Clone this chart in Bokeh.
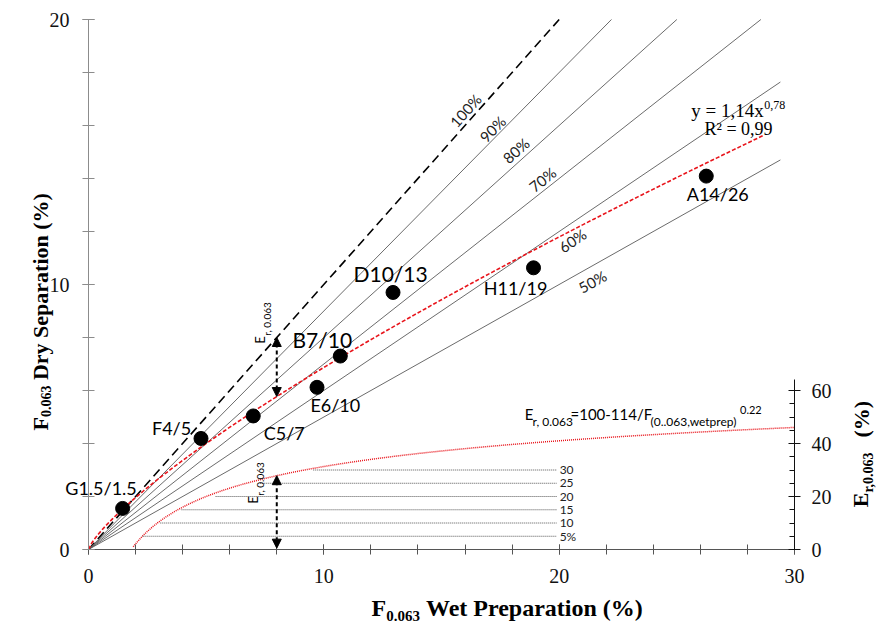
import math
import numpy as np
from bokeh.plotting import figure
from bokeh.models import Range1d, LinearAxis, FixedTicker, Label, Arrow, NormalHead, ColumnDataSource
from bokeh.core.properties import value
from bokeh.embed import file_html
from bokeh.resources import INLINE

# ---------------- data ----------------
sample_names = ["G1.5/1.5", "F4/5", "C5/7", "E6/10", "B7/10", "D10/13", "H11/19", "A14/26"]
wet_prep = [1.45, 4.78, 7.0, 9.71, 10.70, 12.94, 18.91, 26.25]
dry_sep = [1.55, 4.19, 5.04, 6.12, 7.30, 9.70, 10.63, 14.09]

ratio_slopes = [1.0, 0.9, 0.8, 0.7, 0.6, 0.5]
ratio_labels = ["100%", "90%", "80%", "70%", "60%", "50%"]
ratio_x_end = 29.4

fit_a, fit_b = 1.14, 0.78          # y = 1,14 x^0,78
fit_x_end = 28.7
er_a, er_b, er_c = 100.0, 114.0, 0.22   # Er = 100 - 114 / F^0.22
er_x_start, er_x_end = 1.9, 30.0

er_levels = [5, 10, 15, 20, 25, 30]
er_level_labels = ["5%", "10", "15", "20", "25", "30"]
er_level_x_start = [2.3, 3.05, 3.95, 5.4, 7.3, 9.55]
er_level_x_end = 19.9

arrow_x = 8.0

x_ticks = [0, 10, 20, 30]
y_ticks = [0, 10, 20]
er_ticks = [0, 20, 40, 60]
X_MAX, Y_MAX, ER_FULL = 30.0, 20.0, 200.0

# ---------------- layout ----------------
W, H = 885, 626
PX0, PY0 = 88.0, 549.0          # canvas pixel of data origin
PX1, PY1 = 794.0, 19.0          # canvas pixel of (30, 20)
SX = (PX1 - PX0) / X_MAX
SY = (PY0 - PY1) / Y_MAX

x_rng = Range1d(-PX0 / SX, (W - PX0) / SX)
y_rng = Range1d(-(H - PY0) / SY, PY0 / SY)
er_scale = ER_FULL / Y_MAX

p = figure(width=W, height=H, x_range=x_rng, y_range=y_rng,
           output_backend="svg", toolbar_location=None,
           min_border=0, min_border_left=0, min_border_right=0,
           min_border_top=0, min_border_bottom=0,
           x_axis_location=None, y_axis_location=None)
p.outline_line_color = None
p.grid.visible = False
p.background_fill_color = "white"
p.border_fill_color = "white"
p.extra_y_ranges = {"er": Range1d(y_rng.start * er_scale, y_rng.end * er_scale)}

def style_axis(ax, color, mi, mo, ni, no, standoff):
    ax.axis_line_color = color
    ax.major_tick_line_color = color
    ax.minor_tick_line_color = color
    ax.major_tick_in = mi
    ax.major_tick_out = mo
    ax.minor_tick_in = ni
    ax.minor_tick_out = no
    ax.major_label_text_font = "Liberation Serif"
    ax.major_label_text_font_size = "20px"
    ax.major_label_text_color = "#111111"
    ax.major_label_standoff = standoff

xa = LinearAxis(fixed_location=0, bounds=(0, X_MAX),
                ticker=FixedTicker(ticks=x_ticks, minor_ticks=list(range(0, 31, 2))))
style_axis(xa, "#555555", 5, 5, 5, 5, 14)
p.add_layout(xa, "below")

ya = LinearAxis(fixed_location=0, bounds=(0, Y_MAX),
                ticker=FixedTicker(ticks=y_ticks, minor_ticks=list(range(0, 21, 2))))
style_axis(ya, "#8c8c8c", 6, 6, 6, 6, 13)
p.add_layout(ya, "left")

ra = LinearAxis(y_range_name="er", fixed_location=X_MAX, bounds=(0, 64),
                ticker=FixedTicker(ticks=er_ticks, minor_ticks=list(range(0, 61, 5))))
style_axis(ra, "#111111", 6, 6, 5, 0, 11)
p.add_layout(ra, "right")

# ---------------- ratio lines ----------------
for k in ratio_slopes:
    xe_k = min(ratio_x_end, Y_MAX / k)
    if k == 1.0:
        p.line([0, xe_k], [0, k * xe_k], line_color="black", line_width=1.6, line_dash="9 5")
    else:
        p.line([0, xe_k], [0, k * xe_k], line_color="#5a5a5a", line_width=0.9)

# fit line
xf = np.linspace(0, fit_x_end, 200)
p.line(xf, fit_a * xf ** fit_b, line_color="#e8141b", line_width=1.6, line_dash="4 2")

# Er curve on secondary axis
xe = np.linspace(er_x_start, er_x_end, 300)
p.line(xe, er_a - er_b / xe ** er_c, y_range_name="er", line_color="#e8141b",
       line_width=1.5, line_dash="1 1")

# level lines
p.segment(x0=er_level_x_start, y0=er_levels, x1=[er_level_x_end] * len(er_levels),
          y1=er_levels, y_range_name="er", line_color="#555555", line_width=1, line_dash="1 1")
lvl_src = ColumnDataSource(dict(x=[er_level_x_end + 0.12] * len(er_levels), y=er_levels,
                                t=er_level_labels))
p.text(x="x", y="y", text="t", source=lvl_src, y_range_name="er", text_font=value("Lato"),
       text_font_size="12px", text_align="left", text_baseline="middle", text_color="#222222")

# arrows
head = dict(size=9, fill_color="black", line_color="black")
y_top1 = 1.0 * arrow_x
y_bot1 = fit_a * arrow_x ** fit_b
p.add_layout(Arrow(start=NormalHead(**head), end=NormalHead(**head),
                   x_start=arrow_x, y_start=y_bot1, x_end=arrow_x, y_end=y_top1,
                   line_color="black", line_width=2, line_dash="4 3"))
er_top = er_a - er_b / arrow_x ** er_c
p.add_layout(Arrow(start=NormalHead(**head), end=NormalHead(**head), y_range_name="er",
                   x_start=arrow_x, y_start=0.5, x_end=arrow_x, y_end=er_top,
                   line_color="black", line_width=2, line_dash="4 3"))

# points
p.scatter(wet_prep, dry_sep, size=14, fill_color="black", line_color="black")

# ---------------- text helpers ----------------
def lab(text, px, py, size, font="Lato", style="normal", align="left",
        baseline="middle", angle=0.0, color="black"):
    p.add_layout(Label(x=(px - PX0) / SX, y=(PY0 - py) / SY, text=text, text_font=font,
                       text_font_size=f"{size}px", text_font_style=style, text_align=align,
                       text_baseline=baseline, angle=angle, text_color=color))

# point labels (offsets in px: right, down)
pt_offsets = [(-21.6, -20), (-29.4, -10.8), (31, 17), (18.3, 17.5), (-18, -16.8),
              (-2.4, -19), (-18, 19.8), (11.5, 17.5)]
pt_sizes = [18, 18, 18, 18, 21, 21, 18, 18]
for name, xv, yv, (dx, dy), fs in zip(sample_names, wet_prep, dry_sep, pt_offsets, pt_sizes):
    p.add_layout(Label(x=xv, y=yv, x_offset=dx, y_offset=-dy, text=name, text_font="Lato",
                       text_font_size=f"{fs}px", text_align="center", text_baseline="middle",
                       text_color="black"))

# ratio labels
ratio_label_pos = [(465, 110), (492, 128.5), (515.5, 150), (542, 179), (572, 240), (592, 281)]
for k, t, (px, py) in zip(ratio_slopes, ratio_labels, ratio_label_pos):
    ang = math.atan(k * SY / SX)
    lab(t, px, py, 15, align="center", angle=ang, color="#222222")

# trend equation
lab("y = 1,14x", 763.3, 110, 19, font="Liberation Serif", align="right")
lab("0,78", 763.8, 104.5, 12, font="Liberation Serif")
lab("R² = 0,99", 704, 128.5, 18, font="Liberation Serif")

# Er formula
lab("E", 524.3, 413, 15)
lab("r, 0.063", 532, 420.5, 12)
lab("=100-114/F", 570, 413, 15)
lab("(0..063,wetprep)", 650, 421, 12)
lab("0.22", 739.5, 409.3, 11)

# vertical Er labels near arrows
for cx, by in [(259.7, 343.3), (252.5, 503.3)]:
    lab("E", cx, by, 13, angle=math.pi / 2)
    lab("r, 0.063", cx + 7, by - 8, 10, angle=math.pi / 2)

# axis titles
lab("F", 371, 607, 24, font="Liberation Serif", style="bold")
lab("0.063", 385.7, 615, 15, font="Liberation Serif", style="bold")
lab("Wet Preparation (%)", 425.5, 607, 24, font="Liberation Serif", style="bold")

lab("F", 39.5, 430, 22, font="Liberation Serif", style="bold", angle=math.pi / 2)
lab("0.063", 45.5, 416.6, 14, font="Liberation Serif", style="bold", angle=math.pi / 2)
lab("Dry Separation (%)", 39.5, 379.6, 22, font="Liberation Serif", style="bold", angle=math.pi / 2)

lab("E", 860, 506.7, 22, font="Liberation Serif", style="bold", angle=math.pi / 2)
lab("r,0.063", 867.5, 492, 14, font="Liberation Serif", style="bold", angle=math.pi / 2)
lab("(%)", 861, 437, 22, font="Liberation Serif", style="bold", angle=math.pi / 2)

open("out.html", "w").write(file_html(p, INLINE))
